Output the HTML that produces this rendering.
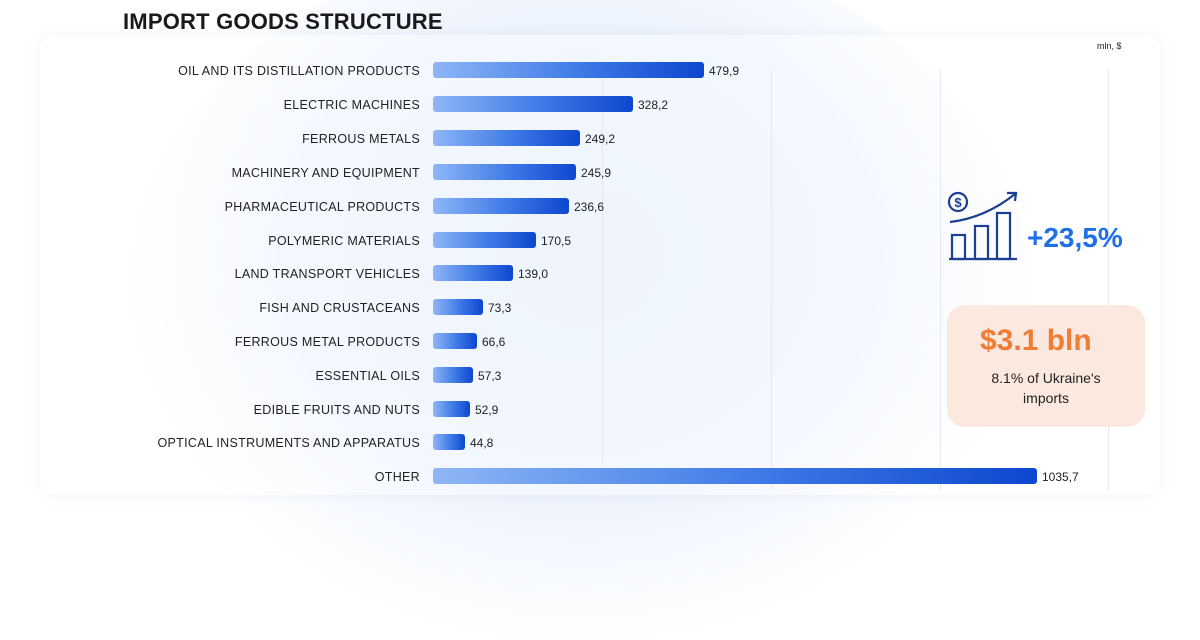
<!DOCTYPE html><html><head><style>
body{margin:0;width:1200px;height:480px;overflow:hidden;background:#fff;font-family:"Liberation Sans",sans-serif;position:relative}
.blob{position:absolute;left:130px;top:-60px;width:900px;height:700px;border-radius:50%;background:radial-gradient(ellipse at 50% 45%,#e6effc 0%,#eef4fd 45%,rgba(255,255,255,0) 72%)}
.card{position:absolute;left:40px;top:35px;width:1120px;height:460px;border-radius:14px;background:rgba(255,255,255,0.35);box-shadow:0 0 12px rgba(200,210,230,0.25)}
h1{position:absolute;left:123px;top:9px;margin:0;font-size:22px;font-weight:bold;color:#1a1a1a;letter-spacing:0.2px}
.g{position:absolute;top:70px;width:1px;height:420px;background:#e6e9ef}
.lab{position:absolute;right:780px;font-size:12.5px;color:#222;text-align:right;white-space:nowrap;letter-spacing:0.3px}
.bar{position:absolute;left:433px;height:16px;border-radius:3px;background:linear-gradient(90deg,#8fb6f6,#3d79e6 55%,#0d47cf)}
.val{position:absolute;font-size:12px;color:#222}
</style></head><body>
<div class="blob"></div>
<div class="card"></div>
<h1>IMPORT GOODS STRUCTURE</h1>
<div style="position:absolute;left:1097px;top:41px;font-size:9px;color:#222">mln, $</div>
<div class="g" style="left:602px"></div><div class="g" style="left:771px"></div><div class="g" style="left:940px"></div><div class="g" style="left:1108px"></div>
<div class="lab" style="top:64px">OIL AND ITS DISTILLATION PRODUCTS</div><div class="bar" style="top:62px;width:271px"></div><div class="val" style="left:709px;top:64px">479,9</div>
<div class="lab" style="top:98px">ELECTRIC MACHINES</div><div class="bar" style="top:96px;width:200px"></div><div class="val" style="left:638px;top:98px">328,2</div>
<div class="lab" style="top:132px">FERROUS METALS</div><div class="bar" style="top:130px;width:147px"></div><div class="val" style="left:585px;top:132px">249,2</div>
<div class="lab" style="top:166px">MACHINERY AND EQUIPMENT</div><div class="bar" style="top:164px;width:143px"></div><div class="val" style="left:581px;top:166px">245,9</div>
<div class="lab" style="top:200px">PHARMACEUTICAL PRODUCTS</div><div class="bar" style="top:198px;width:136px"></div><div class="val" style="left:574px;top:200px">236,6</div>
<div class="lab" style="top:234px">POLYMERIC MATERIALS</div><div class="bar" style="top:232px;width:103px"></div><div class="val" style="left:541px;top:234px">170,5</div>
<div class="lab" style="top:267px">LAND TRANSPORT VEHICLES</div><div class="bar" style="top:265px;width:80px"></div><div class="val" style="left:518px;top:267px">139,0</div>
<div class="lab" style="top:301px">FISH AND CRUSTACEANS</div><div class="bar" style="top:299px;width:50px"></div><div class="val" style="left:488px;top:301px">73,3</div>
<div class="lab" style="top:335px">FERROUS METAL PRODUCTS</div><div class="bar" style="top:333px;width:44px"></div><div class="val" style="left:482px;top:335px">66,6</div>
<div class="lab" style="top:369px">ESSENTIAL OILS</div><div class="bar" style="top:367px;width:40px"></div><div class="val" style="left:478px;top:369px">57,3</div>
<div class="lab" style="top:403px">EDIBLE FRUITS AND NUTS</div><div class="bar" style="top:401px;width:37px"></div><div class="val" style="left:475px;top:403px">52,9</div>
<div class="lab" style="top:436px">OPTICAL INSTRUMENTS AND APPARATUS</div><div class="bar" style="top:434px;width:32px"></div><div class="val" style="left:470px;top:436px">44,8</div>
<div class="lab" style="top:470px">OTHER</div><div class="bar" style="top:468px;width:604px"></div><div class="val" style="left:1042px;top:470px">1035,7</div>
<svg style="position:absolute;left:945px;top:188px" width="80" height="75" viewBox="0 0 80 75" fill="none" stroke="#1c3f94" stroke-width="2.2">
<circle cx="13" cy="14" r="9"/><text x="13" y="19" font-size="13" font-weight="bold" text-anchor="middle" fill="#1c3f94" stroke="none" font-family="Liberation Sans">$</text>
<path d="M5 34 Q40 30 70 6"/><path d="M62 5 L71 5 L70 13"/>
<rect x="7" y="47" width="13" height="24"/><rect x="30" y="38" width="13" height="33"/><rect x="52" y="25" width="13" height="46"/><path d="M4 71 H72"/>
</svg>
<div style="position:absolute;left:1027px;top:222px;font-size:28px;font-weight:bold;color:#1f6fe8">+23,5%</div>
<div style="position:absolute;left:947px;top:305px;width:198px;height:122px;border-radius:18px;background:#fbe9df"></div>
<div style="position:absolute;left:980px;top:324px;font-size:30px;font-weight:bold;color:#f07c35">$3.1 bln</div>
<div style="position:absolute;left:947px;top:368px;width:198px;text-align:center;font-size:14px;color:#222;line-height:20px">8.1% of Ukraine's<br>imports</div>
</body></html>
